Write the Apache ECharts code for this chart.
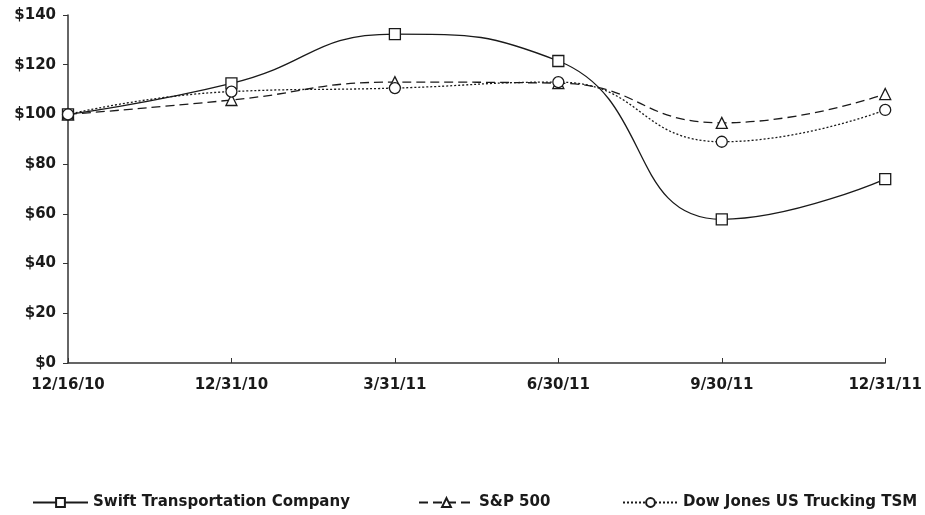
<!DOCTYPE html>
<html>
<head>
<meta charset="utf-8">
<title>Swift Transportation - cumulative total return</title>
<script src="https://cdn.jsdelivr.net/npm/echarts@6.0.0/dist/echarts.min.js"></script>
<style>
  html, body { margin: 0; padding: 0; background: #fff; }
  #chart { width: 925px; height: 515px; }
</style>
</head>
<body>
<div id="chart"></div>
<script>
// data
const dates = ['12/16/10', '12/31/10', '3/31/11', '6/30/11', '9/30/11', '12/31/11'];
const swift = [100, 112.5, 132.3, 121.5, 57.8, 74];
const sp500 = [100, 105.8, 113, 112.6, 96.6, 108.2];
const dowTrucking = [100, 109.2, 110.6, 113, 89, 101.8];
const yTicks = { min: 0, max: 140, step: 20 };

const INK = '#1a1a1a';
const FONT = '"DejaVu Sans", "Liberation Sans", Arial, sans-serif';

function lineSeries(name, values, symbol, dash) {
	return {
		name: name,
		type: 'line',
		data: values,
		smooth: 0.5,
		symbol: symbol,
		symbolSize: 11,
		showAllSymbol: true,
		lineStyle: { color: INK, width: 1.3, type: dash },
		itemStyle: { color: '#fff', borderColor: INK, borderWidth: 1.3 },
		emphasis: { disabled: true }
	};
}

function legendAt(name, left) {
	return {
		data: [name],
		left: left,
		top: 490,
		itemWidth: 55,
		itemHeight: 11,
		textStyle: { fontFamily: FONT, fontWeight: 'bold', fontSize: 15, color: INK },
		selectedMode: false
	};
}

const chart = echarts.init(document.getElementById('chart'), null, { renderer: 'canvas' });
chart.setOption({
	animation: false,
	backgroundColor: '#fff',
	grid: { left: 68, right: 35, top: 15, bottom: 152, containLabel: false },
	legend: [
		legendAt('Swift Transportation Company', 27),
		legendAt('S&P 500', 413),
		legendAt('Dow Jones US Trucking TSM', 617)
	],
	xAxis: {
		type: 'category',
		data: dates,
		boundaryGap: false,
		axisLine: { lineStyle: { color: '#333', width: 1.5 } },
		axisTick: { inside: true, length: 5, lineStyle: { color: '#333' } },
		axisLabel: { margin: 15, fontFamily: FONT, fontWeight: 'bold', fontSize: 15, color: INK }
	},
	yAxis: {
		type: 'value',
		min: yTicks.min,
		max: yTicks.max,
		interval: yTicks.step,
		axisLine: { show: true, lineStyle: { color: '#333', width: 1.5 } },
		axisTick: { show: true, length: 5, lineStyle: { color: '#333' } },
		splitLine: { show: false },
		axisLabel: {
			margin: 12,
			fontFamily: FONT, fontWeight: 'bold', fontSize: 15, color: INK,
			formatter: v => '$' + v
		}
	},
	series: [
		lineSeries('Swift Transportation Company', swift, 'rect', 'solid'),
		lineSeries('S&P 500', sp500, 'triangle', [9, 5]),
		lineSeries('Dow Jones US Trucking TSM', dowTrucking, 'circle', [2, 2])
	]
});
</script>
</body>
</html>
